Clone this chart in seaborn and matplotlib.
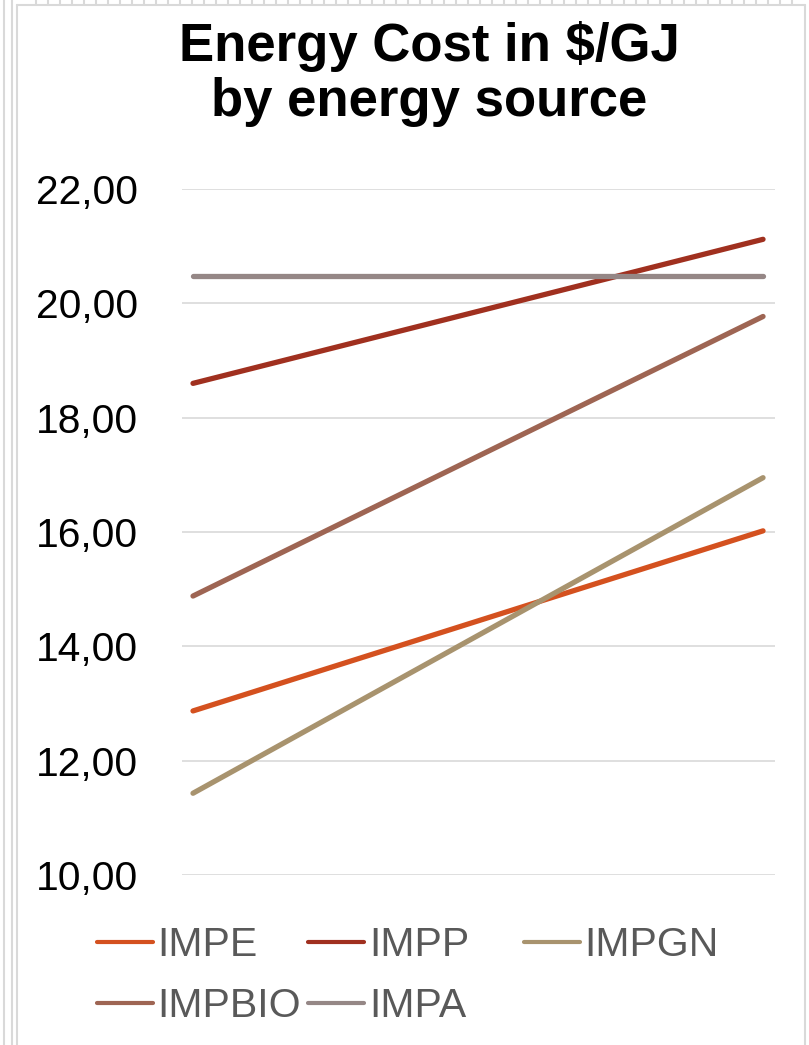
import matplotlib
matplotlib.use("Agg")
import matplotlib.pyplot as plt
from matplotlib.lines import Line2D
from matplotlib.ticker import FuncFormatter, FixedLocator
import seaborn as sns
import pandas as pd

# Energy cost in $/GJ for each source, at the two compared points
sources = ["IMPE", "IMPP", "IMPGN", "IMPBIO", "IMPA"]
periods = [0, 1]
impe = [12.87, 16.02]
impp = [18.60, 21.12]
impgn = [11.43, 16.95]
impbio = [14.88, 19.77]
impa = [20.47, 20.47]
y_ticks = [10, 12, 14, 16, 18, 20, 22]

colors = {
    "IMPE": "#D4511F",
    "IMPP": "#A0301F",
    "IMPGN": "#A8936E",
    "IMPBIO": "#9E6553",
    "IMPA": "#958786",
}

values = {"IMPE": impe, "IMPP": impp, "IMPGN": impgn, "IMPBIO": impbio, "IMPA": impa}
df = pd.DataFrame(
    [(s, p, v) for s in sources for p, v in zip(periods, values[s])],
    columns=["source", "period", "cost"],
)

sns.set_theme(style="white")
plt.rcParams["font.family"] = ["Liberation Sans", "DejaVu Sans"]

W, H = 809, 1045
fig = plt.figure(figsize=(W / 100, H / 100), dpi=100)
ax = fig.add_axes([182 / W, 1 - 875 / H, (775 - 182) / W, (875 - 189) / H])

sns.lineplot(
    data=df, x="period", y="cost", hue="source", hue_order=sources,
    palette=colors, linewidth=3.8, solid_capstyle="round", legend=False, ax=ax,
)

ax.set_xlim(-0.0193, 1.021)
ax.set_ylim(10, 22)
ax.yaxis.set_major_locator(FixedLocator(y_ticks))
ax.yaxis.set_major_formatter(FuncFormatter(lambda v, _: f"{v:.2f}".replace(".", ",")))
ax.set_xticks([])
ax.set_xlabel("")
ax.set_ylabel("")
ax.grid(axis="y", color="#D9D9D9", linewidth=1.2)
ax.set_axisbelow(True)
for sp in ax.spines.values():
    sp.set_visible(False)
ax.tick_params(axis="y", length=0, pad=31.5, labelsize=29.3, labelcolor="#000000")

fig.text(429 / W, 1 - 21 / H, "Energy Cost in $/GJ\nby energy source",
         ha="center", va="top", fontsize=38, fontweight="bold",
         color="#000000", linespacing=1.12)

# Chart frame and surrounding sheet grid
frame_kw = dict(color="#D9D9D9", linewidth=1.5, transform=None)
fig.add_artist(Line2D([17, 17], [0, H - 5], **frame_kw))
fig.add_artist(Line2D([17, 805], [H - 5, H - 5], **frame_kw))
fig.add_artist(Line2D([805, 805], [0, H - 5], **frame_kw))
fig.add_artist(Line2D([4, 4], [0, H], **frame_kw))
fig.add_artist(Line2D([12, 12], [0, H], **frame_kw))
for gx in range(36, 800, 12):
    fig.add_artist(Line2D([gx, gx], [H - 4, H], **frame_kw))

def handle(name):
    return Line2D([], [], color=colors[name], linewidth=3.0, solid_capstyle="round")

leg_kw = dict(frameon=False, fontsize=29.5, handlelength=1.36, handletextpad=0.12,
              borderpad=0, borderaxespad=0, labelspacing=0.56,
              labelcolor="#595959", loc="upper left")

order = ["IMPE", "IMPBIO", "IMPP", "IMPA"]
leg1 = fig.legend([handle(n) for n in order], order, ncol=2, columnspacing=0.17,
                  bbox_to_anchor=(97 / W, 1 - 926 / H), **leg_kw)
leg2 = fig.legend([handle("IMPGN")], ["IMPGN"], ncol=1,
                  bbox_to_anchor=(524 / W, 1 - 926 / H), **leg_kw)

fig.savefig("out.png", dpi=100)
